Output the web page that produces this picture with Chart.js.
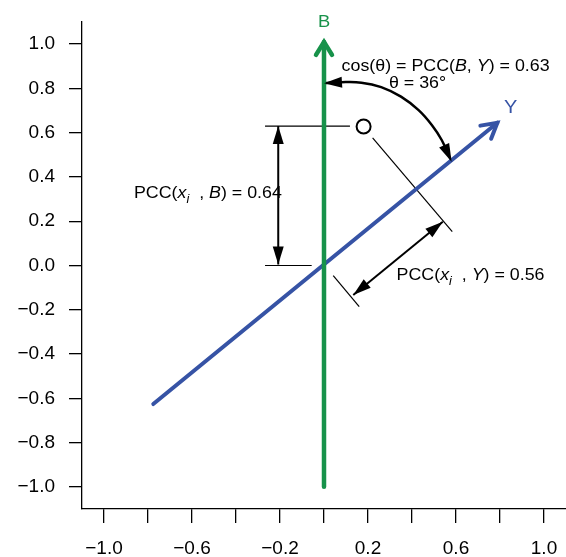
<!DOCTYPE html>
<html>
<head>
<meta charset="utf-8">
<script src="https://cdn.jsdelivr.net/npm/chart.js@4"></script>
<style>
  html, body { margin: 0; padding: 0; background: #fff; }
  #wrap { width: 566px; height: 557px; position: relative; }
</style>
</head>
<body>
<div id="wrap"><canvas id="chart"></canvas></div>
<script>
// Axis ticks
const xTicks = [-1.0, -0.8, -0.6, -0.4, -0.2, 0.0, 0.2, 0.4, 0.6, 0.8, 1.0];
const xTickLabels = ['−1.0', '', '−0.6', '', '−0.2', '', '0.2', '', '0.6', '', '1.0'];
const yTicks = [-1.0, -0.8, -0.6, -0.4, -0.2, 0.0, 0.2, 0.4, 0.6, 0.8, 1.0];
const yTickLabels = ['−1.0', '−0.8', '−0.6', '−0.4', '−0.2', '0.0', '0.2', '0.4', '0.6', '0.8', '1.0'];

const bAxis = [{ x: 0, y: -1.0 }, { x: 0, y: 1.01 }];
const yVector = [{ x: -0.776, y: -0.626 }, { x: 0.788, y: 0.645 }];
const sample = [{ x: 0.18, y: 0.628 }];

// Construction lines
const pccBLevel = [{ x: -0.268, y: 0.63 }, { x: 0.118, y: 0.63 }];
const zeroLevel = [{ x: -0.268, y: 0.0 }, { x: -0.056, y: 0.0 }];
const pccBArrow = [{ x: -0.208, y: 0.63 }, { x: -0.208, y: 0.004 }];
const projection = [{ x: 0.221, y: 0.577 }, { x: 0.583, y: 0.153 }];
const originTick = [{ x: 0.042, y: -0.046 }, { x: 0.160, y: -0.186 }];
const pccYArrow = [{ x: 0.133, y: -0.133 }, { x: 0.540, y: 0.198 }];
const thetaArc = [
    { x: 0.0, y: 0.823 }, { x: 0.08, y: 0.828 }, { x: 0.17, y: 0.826 },
    { x: 0.26, y: 0.806 }, { x: 0.35, y: 0.763 }, { x: 0.43, y: 0.702 },
    { x: 0.49, y: 0.635 }, { x: 0.535, y: 0.567 }, { x: 0.58, y: 0.469 }
];

const GREEN = '#17924a';
const BLUE = '#3653a5';
const FONT = '"Liberation Sans", Arial, sans-serif';

// Text notes, anchored at data coordinates (baseline)
const notes = [
    { x: 0, y: 1.078, align: 'center', color: GREEN, size: 17, parts: [{ t: 'B' }] },
    { x: 0.849, y: 0.69, align: 'center', color: BLUE, size: 18.5, parts: [{ t: 'Y' }] },
    { x: 0.08, y: 0.878, align: 'left', color: '#000', size: 16.5, parts: [
        { t: 'cos(θ) = PCC(' }, { t: 'B', it: true }, { t: ', ' }, { t: 'Y', it: true }, { t: ') = 0.63' }] },
    { x: 0.425, y: 0.80, align: 'center', color: '#000', size: 16.5, parts: [{ t: 'θ = 36°' }] },
    { x: -0.864, y: 0.304, align: 'left', color: '#000', size: 16.5, parts: [
        { t: 'PCC(' }, { t: 'x', it: true }, { t: 'i', it: true, sub: true }, { t: '  , ' },
        { t: 'B', it: true }, { t: ') = 0.64' }] },
    { x: 0.330, y: -0.065, align: 'left', color: '#000', size: 16.5, parts: [
        { t: 'PCC(' }, { t: 'x', it: true }, { t: 'i', it: true, sub: true }, { t: '  , ' },
        { t: 'Y', it: true }, { t: ') = 0.56' }] }
];
const STRETCH = 1.08; // the source lettering is a little wide

function line(data, color, width, cap) {
    return {
        data: data,
        showLine: true,
        borderColor: color,
        borderWidth: width,
        borderCapStyle: cap || 'butt',
        pointRadius: 0,
        fill: false
    };
}

function setFont(ctx, p, size) {
    const fs = p.sub ? size * 0.72 : size;
    ctx.font = (p.it ? 'italic ' : '') + fs + 'px ' + FONT;
}

function drawRich(ctx, note, px, py) {
    const size = note.size;
    let total = 0;
    note.parts.forEach(p => { setFont(ctx, p, size); total += ctx.measureText(p.t).width; });
    ctx.save();
    ctx.translate(px, py);
    ctx.scale(STRETCH, 1);
    let cx = note.align === 'center' ? -total / 2 : 0;
    ctx.fillStyle = note.color;
    ctx.textAlign = 'left';
    ctx.textBaseline = 'alphabetic';
    note.parts.forEach(p => {
        setFont(ctx, p, size);
        ctx.fillText(p.t, cx, p.sub ? size * 0.28 : 0);
        cx += ctx.measureText(p.t).width;
    });
    ctx.restore();
}

function toPx(chart, pt) {
    return { x: chart.scales.x.getPixelForValue(pt.x), y: chart.scales.y.getPixelForValue(pt.y) };
}

function headFilled(ctx, tip, from, len, half) {
    const dx = tip.x - from.x, dy = tip.y - from.y;
    const d = Math.hypot(dx, dy);
    const ux = dx / d, uy = dy / d;
    const bx = tip.x - ux * len, by = tip.y - uy * len;
    ctx.beginPath();
    ctx.moveTo(tip.x, tip.y);
    ctx.lineTo(bx - uy * half, by + ux * half);
    ctx.lineTo(bx + uy * half, by - ux * half);
    ctx.closePath();
    ctx.fill();
}

function headOpen(ctx, tip, from, len, half, width) {
    const dx = tip.x - from.x, dy = tip.y - from.y;
    const d = Math.hypot(dx, dy);
    const ux = dx / d, uy = dy / d;
    const bx = tip.x - ux * len, by = tip.y - uy * len;
    ctx.lineWidth = width;
    ctx.lineJoin = 'miter';
    ctx.lineCap = 'round';
    ctx.beginPath();
    ctx.moveTo(bx - uy * half, by + ux * half);
    ctx.lineTo(tip.x, tip.y);
    ctx.lineTo(bx + uy * half, by - ux * half);
    ctx.stroke();
}

const annotate = {
    id: 'annotate',
    afterDatasetsDraw(chart) {
        const ctx = chart.ctx;
        ctx.save();
        // open heads on B and Y
        ctx.strokeStyle = GREEN;
        headOpen(ctx, toPx(chart, bAxis[1]), toPx(chart, bAxis[0]), 13, 8, 4.5);
        ctx.strokeStyle = BLUE;
        headOpen(ctx, toPx(chart, yVector[1]), toPx(chart, yVector[0]), 15, 8.5, 4);
        // filled heads on the measuring arrows
        ctx.fillStyle = '#000';
        [pccBArrow, pccYArrow].forEach(seg => {
            const a = toPx(chart, seg[0]), b = toPx(chart, seg[1]);
            headFilled(ctx, a, b, 18, 5.5);
            headFilled(ctx, b, a, 18, 5.5);
        });
        const n = thetaArc.length;
        headFilled(ctx, toPx(chart, thetaArc[0]), toPx(chart, thetaArc[1]), 18, 5.5);
        headFilled(ctx, toPx(chart, thetaArc[n - 1]), toPx(chart, thetaArc[n - 2]), 18, 5.5);
        // text
        notes.forEach(note => {
            const p = toPx(chart, note);
            drawRich(ctx, note, p.x, p.y);
        });
        ctx.restore();
    }
};

new Chart(document.getElementById('chart'), {
    type: 'scatter',
    data: {
        datasets: [
            {
                data: sample,
                pointRadius: 7,
                pointBorderWidth: 2,
                pointBorderColor: '#000',
                pointBackgroundColor: '#fff',
                showLine: false
            },
            line(bAxis, GREEN, 4.5, 'round'),
            line(yVector, BLUE, 4, 'round'),
            Object.assign(line(thetaArc, '#000', 2.5), { tension: 0.4 }),
            line(pccBArrow, '#000', 2),
            line(pccYArrow, '#000', 2),
            line(pccBLevel, '#000', 1.2),
            line(zeroLevel, '#000', 1.2),
            line(projection, '#000', 1.2),
            line(originTick, '#000', 1.2)
        ]
    },
    options: {
        responsive: true,
        maintainAspectRatio: false,
        devicePixelRatio: 1,
        animation: false,
        layout: { autoPadding: false, padding: { top: 22, right: 0, left: 0, bottom: 0 } },
        plugins: {
            legend: { display: false },
            tooltip: { enabled: false }
        },
        scales: {
            x: {
                type: 'linear',
                min: -1.1,
                max: 1.1,
                afterBuildTicks: (axis) => { axis.ticks = xTicks.map(v => ({ value: v })); },
                afterFit: (axis) => {
                    axis.height = 48;
                    axis.paddingLeft = 0;
                    axis.paddingRight = 0;
                },
                grid: { drawOnChartArea: false, drawTicks: true, tickLength: 14, color: '#000', lineWidth: 1.3 },
                border: { display: true, color: '#000', width: 1.3 },
                ticks: {
                    autoSkip: false,
                    maxRotation: 0,
                    padding: 6,
                    color: '#000',
                    font: { family: FONT, size: 19, lineHeight: 2.05 },
                    callback: (value, index) => xTickLabels[index]
                }
            },
            y: {
                type: 'linear',
                min: -1.1,
                max: 1.1,
                afterBuildTicks: (axis) => { axis.ticks = yTicks.map(v => ({ value: v })); },
                afterFit: (axis) => {
                    axis.width = 82;
                    axis.paddingTop = 0;
                    axis.paddingBottom = 0;
                },
                grid: { drawOnChartArea: false, drawTicks: true, tickLength: 13, color: '#000', lineWidth: 1.3 },
                border: { display: true, color: '#000', width: 1.3 },
                ticks: {
                    autoSkip: false,
                    padding: 14,
                    color: '#000',
                    font: { family: FONT, size: 19 },
                    callback: (value, index) => yTickLabels[index]
                }
            }
        }
    },
    plugins: [annotate]
});
</script>
</body>
</html>
